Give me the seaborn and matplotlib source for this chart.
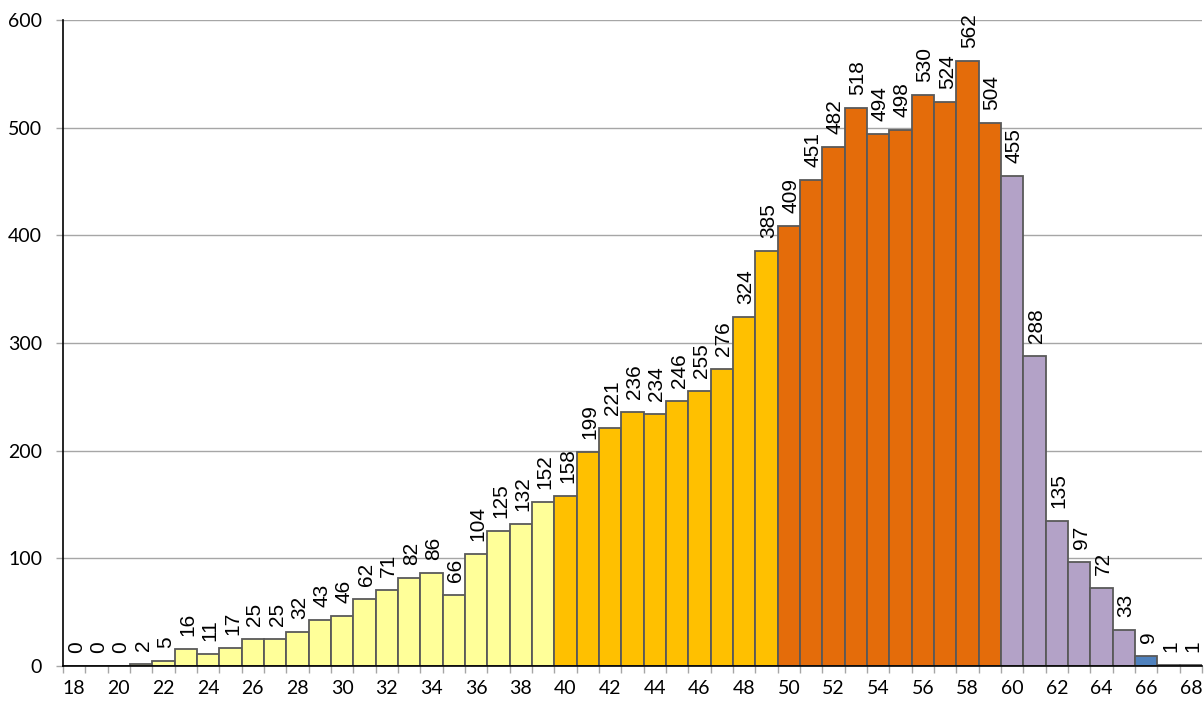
import matplotlib
matplotlib.use("Agg")
import matplotlib.pyplot as plt
import seaborn as sns
import pandas as pd
import numpy as np

ages = list(range(18, 69))
counts = [0, 0, 0, 2, 5, 16, 11, 17, 25, 25, 32, 43, 46, 62, 71, 82, 86, 66,
          104, 125, 132, 152, 158, 199, 221, 236, 234, 246, 255, 276, 324, 385,
          409, 451, 482, 518, 494, 498, 530, 524, 562, 504, 455, 288, 135, 97,
          72, 33, 9, 1, 1]
groups = (["a"] * 22 + ["b"] * 10 + ["c"] * 10 + ["d"] * 6 + ["e"] * 3)
palette = {"a": "#FFFF99", "b": "#FFC000", "c": "#E46C0A", "d": "#B3A2C7", "e": "#4F81BD"}
yticks = [0, 100, 200, 300, 400, 500, 600]

df = pd.DataFrame({"age": [str(a) for a in ages], "count": counts, "group": groups})

sns.set_style("white")
plt.rcParams["font.family"] = ["Liberation Sans", "DejaVu Sans"]
plt.rcParams["text.color"] = "black"
plt.rcParams["xtick.labelcolor"] = "black"
plt.rcParams["ytick.labelcolor"] = "black"

fig = plt.figure(figsize=(12.04, 7.04), dpi=100)
ax = fig.add_axes([63 / 1204, 38 / 704, (1202 - 63) / 1204, (666 - 20) / 704])

sns.barplot(data=df, x="age", y="count", hue="group", palette=palette,
            dodge=False, width=1.0, legend=False, ax=ax, saturation=1,
            edgecolor="#595959", linewidth=1.3, zorder=3)

ax.set_xlim(-0.5, len(ages) - 0.5)
ax.set_ylim(0, 600)
ax.set_yticks(yticks)
ax.set_yticklabels([str(v) for v in yticks], family="Lato", fontsize=14, color="black")
ax.yaxis.grid(True, color="#A6A6A6", linewidth=1.0, zorder=0)
ax.set_axisbelow(True)

pos = np.arange(len(ages))
ax.set_xticks(pos[::2])
ax.set_xticklabels([str(a) for a in ages[::2]], family="Lato", fontsize=14, color="black")
ax.set_xticks(np.arange(-0.5, len(ages), 1.0), minor=True)
ax.tick_params(axis="x", which="major", length=0, pad=10)
ax.tick_params(axis="x", which="minor", length=5, color="#A6A6A6", width=1.0, bottom=True)
ax.tick_params(axis="y", length=5, color="#A6A6A6", width=1.0, pad=10, left=True)

for s in ["top", "right"]:
    ax.spines[s].set_visible(False)
for s in ["left", "bottom"]:
    ax.spines[s].set_color("black")
    ax.spines[s].set_linewidth(1.2)
    ax.spines[s].set_zorder(5)

ax.set_xlabel("")
ax.set_ylabel("")

for i, v in enumerate(counts):
    ax.annotate(str(v), (i, v), xytext=(2, 13), textcoords="offset pixels",
                rotation=90, ha="center", va="bottom", fontsize=15, color="black",
                family="Liberation Sans", annotation_clip=False)

fig.savefig("out.png", dpi=100)
